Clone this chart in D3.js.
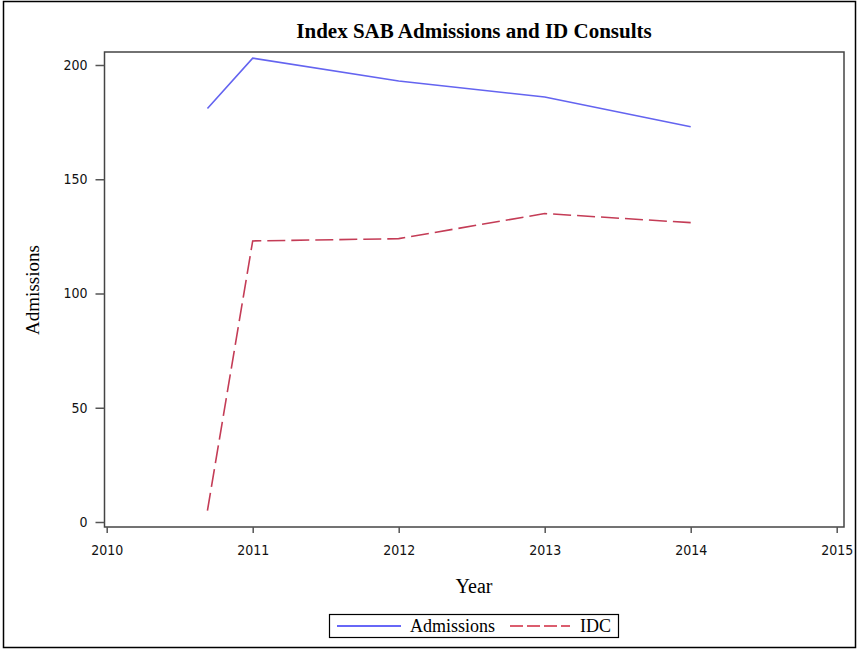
<!DOCTYPE html>
<html>
<head>
<meta charset="utf-8">
<script src="https://cdn.jsdelivr.net/npm/d3@7"></script>
<style>
  body { margin: 0; background: #fff; }
  svg { display: block; }
</style>
</head>
<body>
<div id="chart"></div>
<script>
// data
var years = [2010.69, 2011, 2012, 2013, 2014];
var admissions = [181, 203, 193, 186, 173];
var idc = [5, 123, 124, 135, 131];
var xTicks = [2010, 2011, 2012, 2013, 2014, 2015];
var yTicks = [0, 50, 100, 150, 200];
var seriesNames = ["Admissions", "IDC"];

var W = 859, H = 652;
var frameL = 104.5, frameR = 844, frameT = 52, frameB = 527;

var svg = d3.select("#chart").append("svg")
    .attr("width", W).attr("height", H);

// outer border
svg.append("rect")
    .attr("x", 3.5).attr("y", 1.5)
    .attr("width", 852).attr("height", 646)
    .attr("fill", "none").attr("stroke", "#000").attr("stroke-width", 1.5);

var x = d3.scaleLinear().domain([2010, 2015]).range([106.7, 836.7]);
var y = d3.scaleLinear().domain([0, 200]).range([522, 65]);

// frame
svg.append("rect")
    .attr("x", frameL).attr("y", frameT)
    .attr("width", frameR - frameL).attr("height", frameB - frameT)
    .attr("fill", "none").attr("stroke", "#444").attr("stroke-width", 1.5);

var xAxis = svg.append("g")
    .attr("transform", "translate(0," + frameB + ")")
    .call(d3.axisBottom(x).tickValues(xTicks).tickFormat(d3.format("d")).tickSize(6).tickPadding(12));
var yAxis = svg.append("g")
    .attr("transform", "translate(" + frameL + ",0)")
    .call(d3.axisLeft(y).tickValues(yTicks).tickSize(9).tickPadding(8));

[xAxis, yAxis].forEach(function(a) {
  a.select(".domain").remove();
  a.selectAll(".tick line").attr("stroke", "#555").attr("stroke-width", 1.5);
  a.selectAll(".tick text")
    .attr("fill", "#111")
    .style("font-family", "'DejaVu Sans Condensed', 'DejaVu Sans', sans-serif")
    .style("font-size", "14px");
});

// lines
var line = d3.line().x(function(d, i) { return x(years[i]); }).y(function(d) { return y(d); });

svg.append("path")
    .datum(admissions)
    .attr("d", line)
    .attr("fill", "none").attr("stroke", "#6464f0").attr("stroke-width", 1.6);

svg.append("path")
    .datum(idc)
    .attr("d", line)
    .attr("fill", "none").attr("stroke", "#c43c56").attr("stroke-width", 1.6)
    .attr("stroke-dasharray", "18,6");

// title and axis labels
var serif = "'Liberation Serif', 'Times New Roman', serif";
svg.append("text")
    .attr("x", 474).attr("y", 38)
    .attr("text-anchor", "middle")
    .style("font-family", serif).style("font-weight", "bold").style("font-size", "21px")
    .text("Index SAB Admissions and ID Consults");

svg.append("text")
    .attr("x", 474).attr("y", 593)
    .attr("text-anchor", "middle")
    .style("font-family", serif).style("font-size", "20px")
    .text("Year");

svg.append("text")
    .attr("transform", "translate(39,290) rotate(-90)")
    .attr("text-anchor", "middle")
    .style("font-family", serif).style("font-size", "19px")
    .text("Admissions");

// legend
var lg = svg.append("g");
lg.append("rect")
    .attr("x", 329.5).attr("y", 614.5)
    .attr("width", 289).attr("height", 23)
    .attr("fill", "none").attr("stroke", "#000").attr("stroke-width", 1.2);

var legendItems = [
  {name: seriesNames[0], x1: 337, x2: 401, tx: 410, color: "#3434f4", dash: null},
  {name: seriesNames[1], x1: 510, x2: 570, tx: 580, color: "#d0283f", dash: "13,4"}
];
legendItems.forEach(function(d) {
  lg.append("line")
    .attr("x1", d.x1).attr("x2", d.x2).attr("y1", 626).attr("y2", 626)
    .attr("stroke", d.color).attr("stroke-width", 1.3)
    .attr("stroke-dasharray", d.dash);
  lg.append("text")
    .attr("x", d.tx).attr("y", 632)
    .style("font-family", serif).style("font-size", "18px")
    .text(d.name);
});
</script>
</body>
</html>
